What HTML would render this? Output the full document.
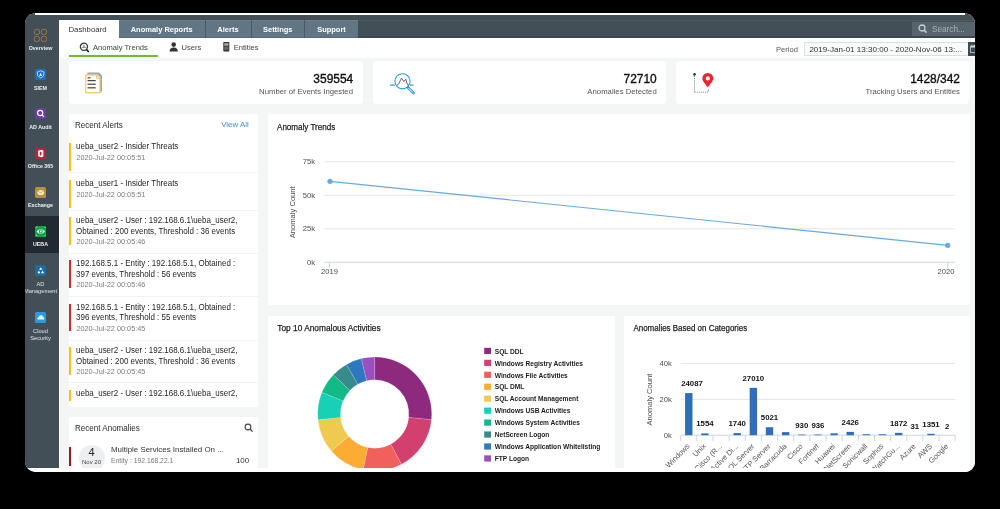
<!DOCTYPE html>
<html><head><meta charset="utf-8">
<style>
*{box-sizing:border-box;margin:0;padding:0}
html,body{width:1000px;height:509px;overflow:hidden;background:#000;font-family:"Liberation Sans", sans-serif}
#scr{position:absolute;left:25px;top:13px;width:950px;height:459px;clip-path:path('M0 9.3 Q1.6 1.6 9.6 0 L940 0 Q948.4 1.6 950 9 L950 450 Q948.6 457.6 941 459 L9.2 459 Q1.4 457.6 0 449.8 Z');background:#fff;overflow:hidden}
#app{position:absolute;left:-25px;top:-13px;width:1000px;height:509px;will-change:transform}
.a{position:absolute}
.side{position:absolute;left:25px;top:15px;width:34px;height:452.5px;background:#434f57}
.sel{position:absolute;left:25px;top:216px;width:34px;height:37px;background:#212a31}
.sico{position:absolute;left:34.8px;width:11.3px;height:11px;border-radius:1.5px}
.slab{position:absolute;left:23.5px;width:34px;text-align:center;color:#eef1f2;font-size:5.3px;font-weight:bold;line-height:6.5px;white-space:nowrap}
.hdr{position:absolute;left:59px;top:15px;width:916px;height:23px;background:#434f57}
.tab{position:absolute;top:20px;height:18px;background:#617684;color:#fff;font-size:7.5px;font-weight:bold;line-height:19.6px;box-shadow:inset 0 1px 0 #6e828f, inset 0 -1px 0 #56697a;text-align:center;white-space:nowrap}
.sub{position:absolute;left:59px;top:38px;width:916px;height:19.5px;background:#fff}
.content{position:absolute;left:60px;top:57.5px;width:915px;height:410px;background:#f4f5f5}
.card{position:absolute;background:#fff;border-radius:4px}
.num{position:absolute;font-size:11.95px;color:#111;-webkit-text-stroke:0.35px #111;text-align:right;white-space:nowrap}
.nlab{position:absolute;font-size:7.75px;color:#555;text-align:right;white-space:nowrap}
.ptitle{position:absolute;font-size:9px;color:#2a2a2a;transform:scaleX(0.894);transform-origin:0 0;white-space:nowrap}
.abar{position:absolute;left:69px;width:2px;height:27.5px}
.at{position:absolute;left:76.4px;font-size:8.4px;line-height:10px;color:#1f1f1f;transform:scaleX(0.953);transform-origin:0 0;white-space:nowrap}
.ad{position:absolute;left:76.4px;font-size:7.3px;line-height:9px;color:#7c7c7c;white-space:nowrap}
.asep{position:absolute;left:69px;width:189px;height:1px;background:#f2f2f2}
svg text{font-family:"Liberation Sans", sans-serif}
.ax{font-size:7.6px;fill:#4c4c4c}
.lg{font-size:6.6px;font-weight:bold;fill:#1c1c1c}
.dl{font-size:7.8px;font-weight:bold;fill:#111}
.cl{font-size:7.5px;fill:#555}
.ct{font-size:9.2px;fill:#222;stroke:#222;stroke-width:0.25px}
</style></head><body>
<div id="scr"><div id="app">
<div class="side"></div>
<div class="a" style="left:25px;top:12px;width:10px;height:4px;background:#434f57"></div>
<div class="a" style="left:965px;top:12px;width:10px;height:4px;background:#434f57"></div>
<div class="sel"></div>
<!-- sidebar icons -->
<svg class="a" style="left:33px;top:28px" width="15" height="15" viewBox="0 0 15 15"><g fill="none" stroke="#a27840" stroke-width="1"><rect x="1.3" y="1.3" width="5.2" height="5.2" rx="2"/><rect x="8.3" y="1.3" width="5.2" height="5.2" rx="2"/><rect x="1.3" y="8.3" width="5.2" height="5.2" rx="2"/><rect x="8.3" y="8.3" width="5.2" height="5.2" rx="2"/></g></svg>
<div class="slab" style="top:45px">Overview</div>
<div class="sico" style="top:69px;background:#1f6fbf"></div>
<svg class="a" style="left:34.8px;top:69px" width="11.3" height="11" viewBox="0 0 11 11"><path d="M5.5 1.8 L8.8 3 L8.5 6.8 L5.5 9 L2.5 6.8 L2.2 3 Z" fill="none" stroke="#d7e6f5" stroke-width="0.8"/><path d="M5.5 3.8 L7 6.8 L4 6.8 Z" fill="#fff"/></svg>
<div class="slab" style="top:84.5px">SIEM</div>
<div class="sico" style="top:108.3px;background:#6b3fa0"></div>
<svg class="a" style="left:34.8px;top:108.3px" width="11.3" height="11" viewBox="0 0 11 11"><circle cx="5" cy="5" r="2.6" fill="none" stroke="#fff" stroke-width="1.1"/><path d="M6.8 6.8 L8.8 8.8" stroke="#fff" stroke-width="1.2"/></svg>
<div class="slab" style="top:124px">AD Audit</div>
<div class="sico" style="top:147.5px;background:#b4253c"></div>
<svg class="a" style="left:34.8px;top:147.5px" width="11.3" height="11" viewBox="0 0 11 11"><path d="M3 2.8 L6.5 1.8 L8.2 2.6 L8.2 8.4 L6.5 9.2 L3 8.2 Z" fill="#fff"/><rect x="4.6" y="3.8" width="1.7" height="3.6" fill="#b4253c"/></svg>
<div class="slab" style="top:162.5px">Office 365</div>
<div class="sico" style="top:186.5px;background:#b4962b"></div>
<svg class="a" style="left:34.8px;top:186.5px" width="11.3" height="11" viewBox="0 0 11 11"><ellipse cx="5.6" cy="5.5" rx="3.4" ry="2.6" fill="#f4ead0"/><path d="M3 4 L5.6 6 L8.2 4" fill="none" stroke="#b4962b" stroke-width="0.7"/></svg>
<div class="slab" style="top:201.5px">Exchange</div>
<div class="sico" style="top:226px;background:#1b9f4b"></div>
<svg class="a" style="left:34.8px;top:226px" width="11.3" height="11" viewBox="0 0 11 11"><path d="M1.3 5.5 Q5.6 0.9 9.9 5.5 Q5.6 10.1 1.3 5.5 Z" fill="#fff"/><circle cx="5.6" cy="5.5" r="2" fill="#1b9f4b"/><circle cx="5.6" cy="5.5" r="0.9" fill="#fff"/><path d="M1 2.2 L1 1 L2.2 1 M9 1 L10.2 1 L10.2 2.2 M1 8.8 L1 10 L2.2 10 M10.2 8.8 L10.2 10 L9 10" fill="none" stroke="#cfead7" stroke-width="0.5"/></svg>
<div class="slab" style="top:241px">UEBA</div>
<div class="sico" style="top:265px;background:#1c6da3"></div>
<svg class="a" style="left:34.8px;top:265px" width="11.3" height="11" viewBox="0 0 11 11"><path d="M5.6 2.2 L7.2 4.8 L4 4.8 Z M3.8 5.6 L5.2 8.2 L2.3 8.2 Z M7.4 5.6 L8.9 8.2 L6 8.2 Z" fill="#fff"/></svg>
<div class="slab" style="top:281px;font-weight:normal;font-size:5.7px;color:#dde2e5">AD</div>
<div class="slab" style="top:287.5px;font-weight:normal;font-size:5.7px;color:#dde2e5">Management</div>
<div class="sico" style="top:311.5px;background:#2b9be0"></div>
<svg class="a" style="left:34.8px;top:311.5px" width="11.3" height="11" viewBox="0 0 11 11"><path d="M2.3 7.5 Q1.5 5.5 3.5 5.2 Q4 3 6 3.3 Q8 3.3 8.2 5.2 Q9.8 5.5 9 7.5 Z" fill="#e8f4fc"/></svg>
<div class="slab" style="top:327.5px;font-weight:normal;font-size:5.7px;color:#dde2e5">Cloud</div>
<div class="slab" style="top:334.5px;font-weight:normal;font-size:5.7px;color:#dde2e5">Security</div>

<div class="hdr"></div>
<div class="a" style="left:59px;top:20px;width:916px;height:1px;background:#4d5a62"></div>
<div class="a" style="left:59px;top:36px;width:916px;height:2px;background:#3b474e"></div>
<div class="a" style="left:59px;top:20px;width:60px;height:18px;background:#fff"></div>
<div class="tab" style="left:57.5px;width:60px;top:20.7px;background:transparent;box-shadow:none;font-weight:normal;font-size:7.8px;line-height:18px;color:#333">Dashboard</div>
<div class="tab" style="left:119px;width:85.5px">Anomaly Reports</div>
<div class="tab" style="left:204.5px;width:46px;border-left:0.8px solid #4a5a65">Alerts</div>
<div class="tab" style="left:250.5px;width:53.5px;border-left:0.8px solid #4a5a65">Settings</div>
<div class="tab" style="left:304px;width:54px;border-left:0.8px solid #4a5a65">Support</div>
<div class="a" style="left:912px;top:21.7px;width:63px;height:14px;background:#56646c"></div>
<svg class="a" style="left:917px;top:23px" width="12" height="12" viewBox="0 0 12 12"><circle cx="5" cy="5" r="3" fill="none" stroke="#c9d0d4" stroke-width="1.3"/><path d="M7.2 7.2 L9.6 9.6" stroke="#c9d0d4" stroke-width="1.5"/></svg>
<div class="a" style="left:932px;top:22.9px;font-size:8.2px;line-height:14px;color:#aab3b8;white-space:nowrap">Search...</div>

<div class="sub"></div>
<svg class="a" style="left:78.5px;top:41.5px" width="12" height="11" viewBox="0 0 12 11"><circle cx="4.9" cy="4.8" r="3.6" fill="none" stroke="#2b3338" stroke-width="1.2"/><path d="M7.4 7.5 L9.8 10" stroke="#111" stroke-width="1.7"/><path d="M4.9 2.6 L5.9 4.4 L3.9 4.4 Z" fill="#555"/><path d="M2.6 5.4 L7.2 5.4" stroke="#666" stroke-width="0.8"/></svg>
<div class="a" style="left:93px;top:43px;font-size:7.6px;line-height:10px;color:#444;white-space:nowrap">Anomaly Trends</div>
<div class="a" style="left:69px;top:55.3px;width:88.5px;height:2px;background:#6cbf2a"></div>
<svg class="a" style="left:169px;top:41.5px" width="10" height="10" viewBox="0 0 10 10"><circle cx="4.7" cy="2.6" r="2.3" fill="#333"/><path d="M0.5 9.5 Q0.8 5.6 4.7 5.6 Q8.6 5.6 8.9 9.5 Z" fill="#333"/></svg>
<div class="a" style="left:181.5px;top:43.2px;font-size:7.6px;line-height:10px;color:#444;white-space:nowrap">Users</div>
<svg class="a" style="left:222.5px;top:42px" width="7" height="10" viewBox="0 0 7 10"><rect x="0.3" y="0" width="6" height="9.5" rx="0.8" fill="#333"/><rect x="1.2" y="1.2" width="4.2" height="2.5" fill="#aaa"/><rect x="1.2" y="4.5" width="4.2" height="3.5" fill="#666"/></svg>
<div class="a" style="left:233.7px;top:43.2px;font-size:7.6px;line-height:10px;color:#444;white-space:nowrap">Entities</div>
<div class="a" style="left:776px;top:42.5px;font-size:7.6px;line-height:13px;color:#555;white-space:nowrap">Period</div>
<div class="a" style="left:804.2px;top:42.2px;width:170px;height:13.6px;border:0.8px solid #dcdfe0;background:#f9fafa"></div>
<div class="a" style="left:809.4px;top:42.5px;font-size:8.05px;line-height:13px;color:#333;white-space:nowrap">2019-Jan-01 13:30:00 - 2020-Nov-06 13:...</div>
<div class="a" style="left:968px;top:42.3px;width:8px;height:13.3px;background:#3e4b53"></div>
<svg class="a" style="left:969.5px;top:44px" width="6" height="10" viewBox="0 0 6 10"><rect x="0.6" y="2" width="5.4" height="6.6" fill="none" stroke="#c8d0d4" stroke-width="0.8"/><rect x="0.6" y="2" width="5.4" height="1.6" fill="#c8d0d4"/><path d="M2 0.8 L2 2.5 M4.4 0.8 L4.4 2.5" stroke="#fff" stroke-width="0.7"/></svg>

<div class="content"></div>
<!-- stat cards -->
<div class="card" style="left:69px;top:61.2px;width:294px;height:42.6px"></div>
<div class="card" style="left:372.8px;top:61.2px;width:293.3px;height:42.6px"></div>
<div class="card" style="left:675.9px;top:61.2px;width:293.3px;height:42.6px"></div>
<div class="num" style="right:646.8px;top:70.7px;line-height:16px">359554</div>
<div class="nlab" style="right:647px;top:86px;line-height:11px">Number of Events Ingested</div>
<div class="num" style="right:343.3px;top:70.7px;line-height:16px">72710</div>
<div class="nlab" style="right:343.3px;top:86px;line-height:11px">Anomalies Detected</div>
<div class="num" style="right:40px;top:70.7px;line-height:16px">1428/342</div>
<div class="nlab" style="right:40px;top:86px;line-height:11px">Tracking Users and Entities</div>
<svg class="a" style="left:82px;top:68px" width="24" height="30" viewBox="0 0 24 30">
<path d="M5.5 4.4 L17 4.4 L20 7.5 L20 23.5 L5.5 23.5 Z" fill="#93a3b5"/>
<path d="M4.5 6.2 L15.5 6.2 L18.5 9.2 L18.5 24.6 L4.5 24.6 Z" fill="#fff" stroke="#b0bdcc" stroke-width="0.6"/>
<path d="M3.8 7.1 L14.6 7.1 L17.9 10.3 L17.9 24.8 L3.8 24.8 Z" fill="#fff" stroke="#f6b530" stroke-width="0.9"/>
<path d="M14.6 7.1 L14.6 10.3 L17.9 10.3" fill="none" stroke="#f6b530" stroke-width="0.8"/>
<g fill="#444"><rect x="5.5" y="9.2" width="3" height="1.2"/><rect x="5.5" y="12" width="8.2" height="1.2"/><rect x="5.5" y="15.6" width="8.2" height="1.2"/><rect x="5.5" y="19.2" width="8.2" height="1.2"/></g>
</svg>
<svg class="a" style="left:386px;top:68px" width="34" height="30" viewBox="0 0 34 30">
<circle cx="16.5" cy="13.3" r="7.6" fill="none" stroke="#2e9ade" stroke-width="1.1"/>
<path d="M4 17.1 L9 17.1 M24 17.1 L27.5 17.1" stroke="#2e9ade" stroke-width="1.1"/>
<path d="M10.8 17 L12.2 16.6 L15.5 10.2 L17.8 13.5 L19.8 11.2 L21.5 16.8 L23 17" fill="none" stroke="#555" stroke-width="0.9"/>
<path d="M22 19.5 L27.5 25" stroke="#2e9ade" stroke-width="2.6" stroke-linecap="round"/>
<path d="M22.6 20.1 L27 24.5" stroke="#fff" stroke-width="1"/>
</svg>
<svg class="a" style="left:688px;top:68px" width="30" height="30" viewBox="0 0 30 30">
<circle cx="6.5" cy="6.4" r="1.3" fill="#333"/>
<path d="M6.5 8 L6.5 24.2 L20.3 24.2" fill="none" stroke="#555" stroke-width="0.7" stroke-dasharray="1 0.9"/>
<path d="M20.3 21.5 L20.3 23.5" stroke="#555" stroke-width="0.7"/>
<path d="M19.8 19.4 C17.5 16 14.3 13 14.3 10.4 A5.5 5.5 0 0 1 25.3 10.4 C25.3 13 22.1 16 19.8 19.4 Z" fill="#f4222c"/>
<circle cx="19.8" cy="10.4" r="2.1" fill="#fff"/>
</svg>

<!-- Recent alerts panel -->
<div class="card" style="left:69px;top:113.8px;width:189px;height:293.2px;border-radius:2px;overflow:hidden"></div>
<div class="ptitle" style="left:75.3px;top:120px;line-height:10px">Recent Alerts</div>
<div class="a" style="left:221.2px;top:120px;font-size:7.9px;line-height:10px;color:#3f8ed6;white-space:nowrap">View All</div>
<div class="a" style="left:69px;top:113.8px;width:189px;height:286.8px;overflow:hidden">
<div class="a" style="left:-69px;top:-113.8px;width:1000px;height:509px">
<div class="abar" style="top:143px;background:#f4c20d"></div>
<div class="at" style="top:141.3px">ueba_user2 - Insider Threats</div>
<div class="ad" style="top:152.8px">2020-Jul-22 00:05:51</div>
<div class="asep" style="top:171.5px"></div>
<div class="abar" style="top:180px;background:#f4c20d"></div>
<div class="at" style="top:178.3px">ueba_user1 - Insider Threats</div>
<div class="ad" style="top:189.8px">2020-Jul-22 00:05:51</div>
<div class="asep" style="top:210.0px"></div>
<div class="abar" style="top:217px;background:#f4c20d"></div>
<div class="at" style="top:215.3px">ueba_user2 - User : 192.168.6.1\ueba_user2,</div>
<div class="at" style="top:225.8px">Obtained : 200 events, Threshold : 36 events</div>
<div class="ad" style="top:237.2px">2020-Jul-22 00:05:46</div>
<div class="asep" style="top:252.5px"></div>
<div class="abar" style="top:260px;background:#d9262b"></div>
<div class="at" style="top:258.3px">192.168.5.1 - Entity : 192.168.5.1, Obtained :</div>
<div class="at" style="top:268.8px">397 events, Threshold : 56 events</div>
<div class="ad" style="top:280.2px">2020-Jul-22 00:05:46</div>
<div class="asep" style="top:295.5px"></div>
<div class="abar" style="top:303.5px;background:#d9262b"></div>
<div class="at" style="top:301.8px">192.168.5.1 - Entity : 192.168.5.1, Obtained :</div>
<div class="at" style="top:312.3px">396 events, Threshold : 55 events</div>
<div class="ad" style="top:323.7px">2020-Jul-22 00:05:45</div>
<div class="asep" style="top:339.5px"></div>
<div class="abar" style="top:347px;background:#f4c20d"></div>
<div class="at" style="top:345.3px">ueba_user2 - User : 192.168.6.1\ueba_user2,</div>
<div class="at" style="top:355.8px">Obtained : 200 events, Threshold : 36 events</div>
<div class="ad" style="top:367.2px">2020-Jul-22 00:05:45</div>
<div class="asep" style="top:382.0px"></div>
<div class="abar" style="top:390px;background:#f4c20d"></div>
<div class="at" style="top:388.3px">ueba_user2 - User : 192.168.6.1\ueba_user2,</div>
</div></div>

<!-- Recent anomalies -->
<div class="card" style="left:69px;top:416.6px;width:189px;height:60px;border-radius:2px"></div>
<div class="ptitle" style="left:75px;top:422.5px;line-height:10px">Recent Anomalies</div>
<svg class="a" style="left:244px;top:423px" width="10" height="10" viewBox="0 0 10 10"><circle cx="4" cy="4" r="2.9" fill="none" stroke="#444" stroke-width="1.1"/><path d="M6.2 6.2 L8.6 8.6" stroke="#444" stroke-width="1.3"/></svg>
<div class="a" style="left:69px;top:447px;width:2px;height:19px;background:#a3121e"></div>
<div class="a" style="left:78.5px;top:444.5px;width:26px;height:26px;border-radius:50%;background:#eceeef"></div>
<div class="a" style="left:78.5px;top:446px;width:26px;text-align:center;font-size:11px;line-height:13px;color:#222">4</div>
<div class="a" style="left:78.5px;top:458px;width:26px;text-align:center;font-size:6px;line-height:8px;color:#444">Nov 20</div>
<div class="a" style="left:111px;top:445px;font-size:7.9px;line-height:10px;color:#333;white-space:nowrap">Multiple Services Installed On ...</div>
<div class="a" style="left:111px;top:456px;font-size:6.8px;line-height:9px;color:#777;white-space:nowrap">Entity : 192.168.22.1</div>
<div class="a" style="left:235.9px;top:455.5px;font-size:8px;line-height:10px;color:#333;white-space:nowrap">100</div>

<!-- Anomaly trends panel -->
<div class="card" style="left:268.2px;top:113.5px;width:701.5px;height:191.8px;border-radius:2px"></div>
<div class="card" style="left:268.2px;top:315.5px;width:346.5px;height:160px;border-radius:2px"></div>
<div class="card" style="left:623.8px;top:315.5px;width:345.8px;height:160px;border-radius:2px"></div>
<svg class="a" style="left:0;top:0" width="1000" height="509">
<text x="277" y="129.8" class="ct" textLength="58.3" lengthAdjust="spacingAndGlyphs">Anomaly Trends</text>
<text x="277.3" y="330.9" class="ct" textLength="103.3" lengthAdjust="spacingAndGlyphs">Top 10 Anomalous Activities</text>
<text x="633.4" y="330.7" class="ct" textLength="113.8" lengthAdjust="spacingAndGlyphs">Anomalies Based on Categories</text>
<text x="315" y="264.90" class="ax" text-anchor="end">0k</text>
<line x1="324.3" y1="228.77" x2="954.8" y2="228.77" stroke="#e6e6e6" stroke-width="1"/>
<text x="315" y="231.37" class="ax" text-anchor="end">25k</text>
<line x1="324.3" y1="195.24" x2="954.8" y2="195.24" stroke="#e6e6e6" stroke-width="1"/>
<text x="315" y="197.84" class="ax" text-anchor="end">50k</text>
<line x1="324.3" y1="161.71" x2="954.8" y2="161.71" stroke="#e6e6e6" stroke-width="1"/>
<text x="315" y="164.31" class="ax" text-anchor="end">75k</text>
<line x1="324.3" y1="262.3" x2="954.8" y2="262.3" stroke="#ccd6eb" stroke-width="1"/>
<line x1="329.5" y1="262.3" x2="329.5" y2="268.3" stroke="#ccd6eb" stroke-width="1"/>
<line x1="947.7" y1="262.3" x2="947.7" y2="268.3" stroke="#ccd6eb" stroke-width="1"/>
<text x="329.5" y="274.3" class="ax" text-anchor="middle">2019</text>
<text x="946" y="274.3" class="ax" text-anchor="middle">2020</text>
<line x1="330" y1="181.3" x2="947.7" y2="245.3" stroke="#6aa9e0" stroke-width="1.2"/>
<circle cx="330" cy="181.3" r="2.6" fill="#6aa9e0"/>
<circle cx="947.7" cy="245.3" r="2.6" fill="#6aa9e0"/>
<text x="0" y="0" class="ax" text-anchor="middle" transform="translate(294.5 212.3) rotate(-90)">Anomaly Count</text>
<path d="M374.70,357.00 A57.0,57.0 0 0 1 431.42,419.66 L408.73,417.40 A34.2,34.2 0 0 0 374.70,379.80 Z" fill="#8d2a7d" stroke="#fff" stroke-width="0.15"/>
<path d="M431.42,419.66 A57.0,57.0 0 0 1 401.46,464.33 L390.76,444.20 A34.2,34.2 0 0 0 408.73,417.40 Z" fill="#d1406f" stroke="#fff" stroke-width="0.15"/>
<path d="M401.46,464.33 A57.0,57.0 0 0 1 363.14,469.82 L367.76,447.49 A34.2,34.2 0 0 0 390.76,444.20 Z" fill="#f1605d" stroke="#fff" stroke-width="0.15"/>
<path d="M363.14,469.82 A57.0,57.0 0 0 1 331.42,451.09 L348.73,436.26 A34.2,34.2 0 0 0 367.76,447.49 Z" fill="#fcab33" stroke="#fff" stroke-width="0.15"/>
<path d="M331.42,451.09 A57.0,57.0 0 0 1 317.98,419.66 L340.67,417.40 A34.2,34.2 0 0 0 348.73,436.26 Z" fill="#f0c94f" stroke="#fff" stroke-width="0.15"/>
<path d="M317.98,419.66 A57.0,57.0 0 0 1 321.96,392.37 L343.06,401.02 A34.2,34.2 0 0 0 340.67,417.40 Z" fill="#17d0b6" stroke="#fff" stroke-width="0.15"/>
<path d="M321.96,392.37 A57.0,57.0 0 0 1 333.42,374.69 L349.93,390.42 A34.2,34.2 0 0 0 343.06,401.02 Z" fill="#13b987" stroke="#fff" stroke-width="0.15"/>
<path d="M333.42,374.69 A57.0,57.0 0 0 1 346.55,364.44 L357.81,384.26 A34.2,34.2 0 0 0 349.93,390.42 Z" fill="#378c8b" stroke="#fff" stroke-width="0.15"/>
<path d="M346.55,364.44 A57.0,57.0 0 0 1 361.30,358.60 L366.66,380.76 A34.2,34.2 0 0 0 357.81,384.26 Z" fill="#2e77c1" stroke="#fff" stroke-width="0.15"/>
<path d="M361.30,358.60 A57.0,57.0 0 0 1 374.70,357.00 L374.70,379.80 A34.2,34.2 0 0 0 366.66,380.76 Z" fill="#9c4fc1" stroke="#fff" stroke-width="0.15"/>
<rect x="484.2" y="347.80" width="6.8" height="6.2" fill="#8d2a7d"/>
<text x="494.8" y="353.60" class="lg">SQL DDL</text>
<rect x="484.2" y="359.75" width="6.8" height="6.2" fill="#d1406f"/>
<text x="494.8" y="365.55" class="lg">Windows Registry Activities</text>
<rect x="484.2" y="371.70" width="6.8" height="6.2" fill="#f1605d"/>
<text x="494.8" y="377.50" class="lg">Windows File Activities</text>
<rect x="484.2" y="383.65" width="6.8" height="6.2" fill="#fcab33"/>
<text x="494.8" y="389.45" class="lg">SQL DML</text>
<rect x="484.2" y="395.60" width="6.8" height="6.2" fill="#f0c94f"/>
<text x="494.8" y="401.40" class="lg">SQL Account Management</text>
<rect x="484.2" y="407.55" width="6.8" height="6.2" fill="#17d0b6"/>
<text x="494.8" y="413.35" class="lg">Windows USB Activities</text>
<rect x="484.2" y="419.50" width="6.8" height="6.2" fill="#13b987"/>
<text x="494.8" y="425.30" class="lg">Windows System Activities</text>
<rect x="484.2" y="431.45" width="6.8" height="6.2" fill="#378c8b"/>
<text x="494.8" y="437.25" class="lg">NetScreen Logon</text>
<rect x="484.2" y="443.40" width="6.8" height="6.2" fill="#2e77c1"/>
<text x="494.8" y="449.20" class="lg">Windows Application Whitelisting</text>
<rect x="484.2" y="455.35" width="6.8" height="6.2" fill="#9c4fc1"/>
<text x="494.8" y="461.15" class="lg">FTP Logon</text>
<line x1="680.7" y1="363.60" x2="955.2" y2="363.60" stroke="#e6e6e6" stroke-width="1"/>
<line x1="680.7" y1="399.40" x2="955.2" y2="399.40" stroke="#e6e6e6" stroke-width="1"/>
<text x="671.8" y="366.00" class="ax" text-anchor="end">40k</text>
<text x="671.8" y="401.80" class="ax" text-anchor="end">20k</text>
<text x="671.8" y="437.60" class="ax" text-anchor="end">0k</text>
<line x1="680.7" y1="435.2" x2="955.2" y2="435.2" stroke="#ccd6eb" stroke-width="1"/>
<line x1="680.70" y1="435.2" x2="680.70" y2="441.2" stroke="#ccd6eb" stroke-width="1"/>
<line x1="696.85" y1="435.2" x2="696.85" y2="441.2" stroke="#ccd6eb" stroke-width="1"/>
<line x1="712.99" y1="435.2" x2="712.99" y2="441.2" stroke="#ccd6eb" stroke-width="1"/>
<line x1="729.14" y1="435.2" x2="729.14" y2="441.2" stroke="#ccd6eb" stroke-width="1"/>
<line x1="745.29" y1="435.2" x2="745.29" y2="441.2" stroke="#ccd6eb" stroke-width="1"/>
<line x1="761.44" y1="435.2" x2="761.44" y2="441.2" stroke="#ccd6eb" stroke-width="1"/>
<line x1="777.58" y1="435.2" x2="777.58" y2="441.2" stroke="#ccd6eb" stroke-width="1"/>
<line x1="793.73" y1="435.2" x2="793.73" y2="441.2" stroke="#ccd6eb" stroke-width="1"/>
<line x1="809.88" y1="435.2" x2="809.88" y2="441.2" stroke="#ccd6eb" stroke-width="1"/>
<line x1="826.02" y1="435.2" x2="826.02" y2="441.2" stroke="#ccd6eb" stroke-width="1"/>
<line x1="842.17" y1="435.2" x2="842.17" y2="441.2" stroke="#ccd6eb" stroke-width="1"/>
<line x1="858.32" y1="435.2" x2="858.32" y2="441.2" stroke="#ccd6eb" stroke-width="1"/>
<line x1="874.46" y1="435.2" x2="874.46" y2="441.2" stroke="#ccd6eb" stroke-width="1"/>
<line x1="890.61" y1="435.2" x2="890.61" y2="441.2" stroke="#ccd6eb" stroke-width="1"/>
<line x1="906.76" y1="435.2" x2="906.76" y2="441.2" stroke="#ccd6eb" stroke-width="1"/>
<line x1="922.91" y1="435.2" x2="922.91" y2="441.2" stroke="#ccd6eb" stroke-width="1"/>
<line x1="939.05" y1="435.2" x2="939.05" y2="441.2" stroke="#ccd6eb" stroke-width="1"/>
<line x1="955.20" y1="435.2" x2="955.20" y2="441.2" stroke="#ccd6eb" stroke-width="1"/>
<rect x="685.07" y="393.08" width="7.4" height="42.12" fill="#2e6fb8"/>
<text x="692.00" y="386.08" class="dl" text-anchor="middle">24087</text>
<text x="690.27" y="446.70" class="cl" text-anchor="end" transform="rotate(-45 690.27 446.70)">Windows</text>
<rect x="701.22" y="433.42" width="7.4" height="1.78" fill="#2e6fb8"/>
<text x="704.92" y="426.42" class="dl" text-anchor="middle">1554</text>
<text x="706.42" y="446.70" class="cl" text-anchor="end" transform="rotate(-45 706.42 446.70)">Unix</text>
<text x="722.57" y="446.70" class="cl" text-anchor="end" transform="rotate(-45 722.57 446.70)">Cisco (R...</text>
<rect x="733.51" y="433.09" width="7.4" height="2.11" fill="#2e6fb8"/>
<text x="737.21" y="426.09" class="dl" text-anchor="middle">1740</text>
<text x="738.71" y="446.70" class="cl" text-anchor="end" transform="rotate(-45 738.71 446.70)">Active Di...</text>
<rect x="749.66" y="387.85" width="7.4" height="47.35" fill="#2e6fb8"/>
<text x="753.36" y="380.85" class="dl" text-anchor="middle">27010</text>
<text x="754.86" y="446.70" class="cl" text-anchor="end" transform="rotate(-45 754.86 446.70)">SQL Server</text>
<rect x="765.81" y="427.21" width="7.4" height="7.99" fill="#2e6fb8"/>
<text x="769.51" y="420.21" class="dl" text-anchor="middle">5021</text>
<text x="771.01" y="446.70" class="cl" text-anchor="end" transform="rotate(-45 771.01 446.70)">FTP Server</text>
<rect x="781.96" y="432.14" width="7.4" height="3.06" fill="#2e6fb8"/>
<text x="787.16" y="446.70" class="cl" text-anchor="end" transform="rotate(-45 787.16 446.70)">Barracuda</text>
<rect x="798.10" y="434.54" width="7.4" height="0.66" fill="#2e6fb8"/>
<text x="801.80" y="427.54" class="dl" text-anchor="middle">930</text>
<text x="803.30" y="446.70" class="cl" text-anchor="end" transform="rotate(-45 803.30 446.70)">Cisco</text>
<rect x="814.25" y="434.52" width="7.4" height="0.68" fill="#2e6fb8"/>
<text x="817.95" y="427.52" class="dl" text-anchor="middle">936</text>
<text x="819.45" y="446.70" class="cl" text-anchor="end" transform="rotate(-45 819.45 446.70)">Fortinet</text>
<rect x="830.40" y="433.34" width="7.4" height="1.86" fill="#2e6fb8"/>
<text x="835.60" y="446.70" class="cl" text-anchor="end" transform="rotate(-45 835.60 446.70)">Huawei</text>
<rect x="846.54" y="431.86" width="7.4" height="3.34" fill="#2e6fb8"/>
<text x="850.24" y="424.86" class="dl" text-anchor="middle">2426</text>
<text x="851.74" y="446.70" class="cl" text-anchor="end" transform="rotate(-45 851.74 446.70)">NetScreen</text>
<rect x="862.69" y="434.23" width="7.4" height="0.97" fill="#2e6fb8"/>
<text x="867.89" y="446.70" class="cl" text-anchor="end" transform="rotate(-45 867.89 446.70)">Sonicwall</text>
<rect x="878.84" y="434.23" width="7.4" height="0.97" fill="#2e6fb8"/>
<text x="884.04" y="446.70" class="cl" text-anchor="end" transform="rotate(-45 884.04 446.70)">Sophos</text>
<rect x="894.99" y="432.85" width="7.4" height="2.35" fill="#2e6fb8"/>
<text x="898.69" y="425.85" class="dl" text-anchor="middle">1872</text>
<text x="900.19" y="446.70" class="cl" text-anchor="end" transform="rotate(-45 900.19 446.70)">WatchGu...</text>
<text x="914.83" y="429.14" class="dl" text-anchor="middle">31</text>
<text x="916.33" y="446.70" class="cl" text-anchor="end" transform="rotate(-45 916.33 446.70)">Azure</text>
<rect x="927.28" y="433.78" width="7.4" height="1.42" fill="#2e6fb8"/>
<text x="930.98" y="426.78" class="dl" text-anchor="middle">1351</text>
<text x="932.48" y="446.70" class="cl" text-anchor="end" transform="rotate(-45 932.48 446.70)">AWS</text>
<text x="947.13" y="429.20" class="dl" text-anchor="middle">2</text>
<text x="948.63" y="446.70" class="cl" text-anchor="end" transform="rotate(-45 948.63 446.70)">Google</text>
<text x="0" y="0" class="ax" text-anchor="middle" transform="translate(652.3 399.6) rotate(-90)">Anomaly Count</text>
</svg>
<div class="a" style="left:59px;top:467.5px;width:916px;height:10px;background:#fff"></div>
</div></div>
</body></html>
